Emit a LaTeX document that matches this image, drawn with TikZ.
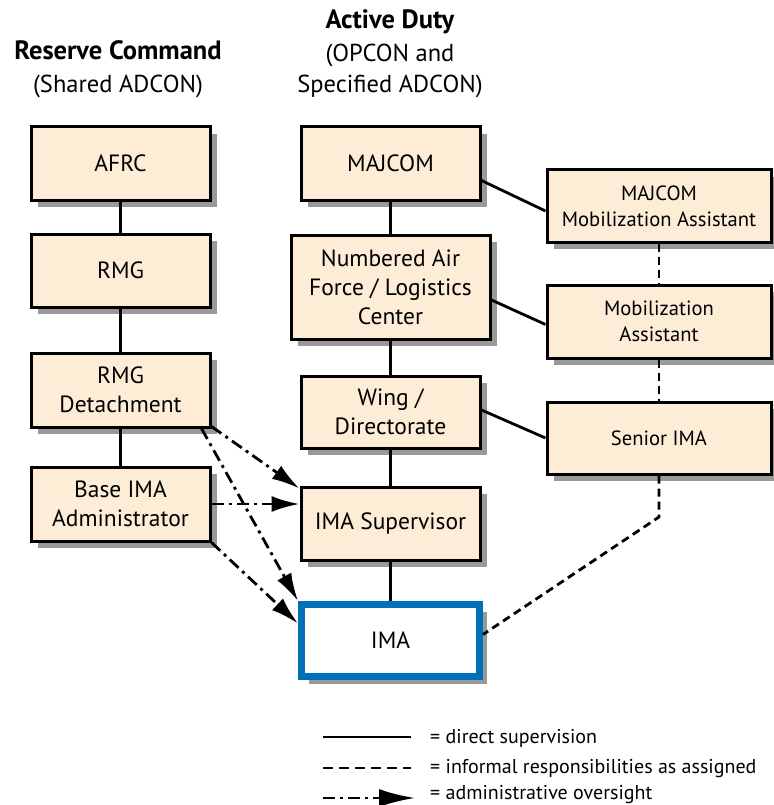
\documentclass[tikz,border=0pt]{standalone}
\usepackage{fontspec}
\setmainfont{PT Sans}
\usetikzlibrary{arrows.meta,shadows}
\definecolor{boxfill}{RGB}{253,236,214}
\definecolor{shadowgray}{RGB}{153,153,153}
\definecolor{imablue}{RGB}{0,112,184}
\tikzset{
  orgbox/.style={rectangle, draw=black, line width=3pt, fill=boxfill,
    minimum width=179pt, minimum height=73pt, align=center, inner sep=2pt,
    font=\fontsize{23.5}{29}\selectfont,
    general shadow={fill=shadowgray, shadow xshift=7pt, shadow yshift=-7pt}},
  rightbox/.style={orgbox, minimum width=224pt, font=\fontsize{20.6}{26}\selectfont},
  direct/.style={line width=2.8pt},
  informal/.style={line width=2.8pt, dash pattern=on 8pt off 5pt},
  admin/.style={line width=2.8pt, dash pattern=on 12pt off 5pt on 3pt off 5pt,
    -{Latex[length=28pt,width=16pt]}},
  title/.style={font=\fontsize{26.5}{30}\selectfont\bfseries, anchor=center},
  subtitle/.style={font=\fontsize{24.5}{30}\selectfont, anchor=center},
  legendtext/.style={font=\fontsize{20}{24}\selectfont, anchor=base west, inner sep=0pt}
}
\begin{document}
\begin{tikzpicture}[x=1pt,y=-1pt]
\useasboundingbox (0,0) rectangle (773,805);
% titles
\node[title] (t1) at (118,50) {Reserve Command};
\node[subtitle] (t1b) at (118,86) {(Shared ADCON)};
\node[title] (t2) at (390,22) {Active Duty};
\node[subtitle] (t2b) at (390,55) {(OPCON and};
\node[subtitle] (t2c) at (390,86) {Specified ADCON)};
% left column
\node[orgbox] (afrc) at (120.5,163.5) {AFRC};
\node[orgbox] (rmg) at (120.5,270.5) {RMG};
\node[orgbox, minimum height=74pt] (rmgd) at (120.5,390) {RMG\\Detachment};
\node[orgbox, minimum height=74pt] (base) at (120.5,504) {Base IMA\\Administrator};
% centre column
\node[orgbox] (majcom) at (390.5,163.5) {MAJCOM};
\node[orgbox, minimum width=199pt, minimum height=104pt] (naf) at (390.5,287) {Numbered Air\\Force / Logistics\\Center};
\node[orgbox, minimum height=72pt] (wing) at (390.5,412) {Wing /\\Directorate};
\node[orgbox] (sup) at (390.5,523.5) {IMA Supervisor};
\node[orgbox, draw=imablue, fill=white, line width=7pt, minimum width=178pt, minimum height=72pt] (ima) at (390.5,640.5) {IMA};
% right column
\node[rightbox, minimum height=72pt] (mma) at (659,206) {MAJCOM\\Mobilization Assistant};
\node[rightbox] (ma) at (659,321.5) {Mobilization\\Assistant};
\node[rightbox, minimum height=72pt] (sima) at (659,438) {Senior IMA};
% direct supervision
\draw[direct] (afrc) -- (rmg);
\draw[direct] (rmg) -- (rmgd);
\draw[direct] (rmgd) -- (base);
\draw[direct] (majcom) -- (naf);
\draw[direct] (naf) -- (wing);
\draw[direct] (wing) -- (sup);
\draw[direct] (sup) -- (ima);
\draw[direct] ([yshift=-17pt]majcom.east) -- ([yshift=-5pt]mma.west);
\draw[direct] ([yshift=-13pt]naf.east) -- ([yshift=-3pt]ma.west);
\draw[direct] ([yshift=2pt]wing.east) -- (sima.west);
% informal
\draw[informal] (mma) -- (ma);
\draw[informal] (ma) -- (sima);
\coordinate (bend) at (659,517);
\draw[informal] (sima.south) -- (bend) -- ([yshift=6pt]ima.east);
% administrative oversight
\draw[admin] ([yshift=2pt]rmgd.south east) -- ([yshift=-3pt]sup.north west);
\draw[admin] ([xshift=-10pt]rmgd.south east) -- (ima.north west);
\draw[admin] (base.east) -- (base.east -| sup.west);
\draw[admin] (base.south east) -- ([yshift=17pt]ima.west);
% legend
\coordinate (l1a) at (323,737); \coordinate (l1b) at (411,737);
\coordinate (l2a) at (323,768); \coordinate (l2b) at (411,768);
\coordinate (l3a) at (323,798); \coordinate (l3b) at (415,798);
\draw[direct] (l1a) -- (l1b);
\draw[informal, dash pattern=on 10pt off 6pt] (l2a) -- (l2b);
\draw[admin, -{Latex[length=36pt,width=18pt]}] (l3a) -- (l3b);
\node[legendtext] (lt1) at (430,743) {= direct supervision};
\node[legendtext] (lt2) at (430,773.5) {= informal responsibilities as assigned};
\node[legendtext] (lt3) at (430,799.5) {= administrative oversight};
\end{tikzpicture}
\end{document}
